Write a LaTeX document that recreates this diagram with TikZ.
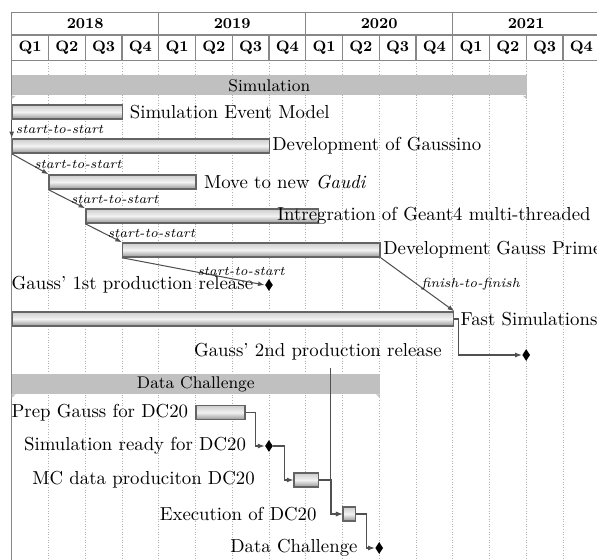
\documentclass[tikz,border=0pt]{standalone}
\usepackage{tikz}
\usetikzlibrary{arrows.meta, positioning, shapes.geometric, calc}
\definecolor{gridgray}{RGB}{175,175,175}
\definecolor{framegray}{RGB}{135,135,135}
\definecolor{groupgray}{RGB}{192,192,192}
\definecolor{barline}{RGB}{100,100,100}
\definecolor{bartop}{RGB}{205,205,205}
\definecolor{barmid}{RGB}{242,242,242}
\definecolor{barbot}{RGB}{150,150,150}
\definecolor{linkgray}{RGB}{80,80,80}
\newcommand{\gpx}{0.01869cm}

\begin{document}
\begin{tikzpicture}[
    x=\gpx, y=-\gpx,
    yearcell/.style={rectangle, draw=framegray, line width=0.6pt, minimum width=147*\gpx, minimum height=22.5*\gpx, inner sep=0pt, font=\footnotesize\bfseries},
    qcell/.style={rectangle, draw=framegray, line width=0.6pt, minimum width=36.75*\gpx, minimum height=25.5*\gpx, inner sep=0pt, font=\footnotesize\bfseries},
    gridline/.style={gridgray, densely dotted, line width=0.4pt},
    grpbar/.style={rectangle, fill=groupgray, minimum height=20*\gpx, inner sep=0pt, anchor=west, font=\small},
    taskbar/.style={rectangle, draw=barline, line width=0.8pt, top color=bartop, bottom color=barbot, middle color=barmid, minimum height=14*\gpx, inner sep=0pt, anchor=west},
    milestone/.style={diamond, fill=black, minimum width=8*\gpx, minimum height=12*\gpx, inner sep=0pt},
    tasktext/.style={inner sep=0pt, font=\normalsize},
    linkarrow/.style={-{Latex[length=3.5pt, width=2.6pt]}, draw=linkgray, line width=0.55pt},
    linktext/.style={font=\scriptsize\itshape, inner sep=2pt}
]
\useasboundingbox (0,0) rectangle (597,560);

\foreach \k in {1,...,16}
  \draw[gridline] ({11.7+\k*36.75},60.5) -- ({11.7+\k*36.75},560);
\draw[framegray, line width=0.6pt] (11.7,12.5) -- (11.7,560);

\foreach \yr [count=\i from 0] in {2018,2019,2020,2021}
  \node[yearcell] (y\yr) at ({11.7+(\i*4+2)*36.75},23.75) {\yr};
\foreach \k in {0,...,15} {
  \pgfmathtruncatemacro{\qn}{mod(\k,4)+1}
  \node[qcell] (q\k) at ({11.7+(\k+0.5)*36.75},47.75) {Q\qn};
}

\node[grpbar, minimum width=514.5*\gpx] (simgrp) at (11.7,85.5) {Simulation};
\fill[groupgray] (simgrp.south east) -- ++(0,3.5) -- ++(-4,-3.5) -- cycle;
\fill[groupgray] (simgrp.south west) -- ++(0,3.5) -- ++(4,-3.5) -- cycle;

\node[taskbar, minimum width=110.25*\gpx] (simev) at (11.7,112) {};
\node[tasktext, right=3.2pt of simev] (simevtxt) {Simulation Event Model};
\node[taskbar, minimum width=257.25*\gpx] (gaussino) at (11.7,146) {};
\node[tasktext, right=0.8pt of gaussino] (gaussinotxt) {Development of Gaussino};
\node[taskbar, minimum width=147*\gpx] (gaudi) at (48.45,182) {};
\node[tasktext, right=3.6pt of gaudi] (gauditxt) {Move to new \textit{Gaudi}};
\node[taskbar, minimum width=232.75*\gpx] (geant) at (85.2,216) {};
\node[tasktext, anchor=west] (geanttxt) at (277,216) {Intregration of Geant4 multi-threaded};
\node[taskbar, minimum width=257.25*\gpx] (prime) at (121.95,250) {};
\node[tasktext, right=1.2pt of prime] (primetxt) {Development Gauss Prime};
\node[milestone] (rel1) at (268.95,285) {};
\node[tasktext, left=5.9pt of rel1] (rel1txt) {Gauss' 1st production release};
\node[taskbar, minimum width=441*\gpx] (fastsim) at (11.7,319) {};
\node[tasktext, right=3.2pt of fastsim] (fastsimtxt) {Fast Simulations};
\node[milestone] (rel2) at (526.2,355) {};
\node[tasktext, anchor=east] (rel2txt) at (442,352) {Gauss' 2nd production release};
\coordinate (relturn) at (330.2,368);

\node[grpbar, minimum width=367.5*\gpx] (dcgrp) at (11.7,384) {Data Challenge};
\fill[groupgray] (dcgrp.south east) -- ++(0,3.5) -- ++(-4,-3.5) -- cycle;
\fill[groupgray] (dcgrp.south west) -- ++(0,3.5) -- ++(4,-3.5) -- cycle;

\node[taskbar, minimum width=49*\gpx] (prep) at (195.45,412.5) {};
\node[tasktext, left=3.7pt of prep] (preptxt) {Prep Gauss for DC20};
\node[milestone] (simready) at (268.95,446) {};
\node[tasktext, left=9.7pt of simready] (simreadytxt) {Simulation ready for DC20};
\node[taskbar, minimum width=24.5*\gpx] (mcprod) at (293.45,480) {};
\node[tasktext, left=20.4pt of mcprod] (mcprodtxt) {MC data produciton DC20};
\node[taskbar, minimum width=12.25*\gpx] (dcexec) at (342.45,514) {};
\node[tasktext, left=13.6pt of dcexec] (dcexectxt) {Execution of DC20};
\node[milestone] (dcdone) at (379.2,548) {};
\node[tasktext, left=9pt of dcdone] (dcdonetxt) {Data Challenge};

\draw[linkarrow] (simev.south west) -- node[linktext, right] {start-to-start} (gaussino.north west);
\draw[linkarrow] (gaussino.south west) -- node[linktext, right] {start-to-start} (gaudi.north west);
\draw[linkarrow] (gaudi.south west) -- node[linktext, right] {start-to-start} (geant.north west);
\draw[linkarrow] (geant.south west) -- node[linktext, right] {start-to-start} (prime.north west);
\draw[linkarrow] (prime.south west) -- node[linktext, right] {start-to-start} (rel1.west);
\draw[linkarrow] (prime.south east) -- node[linktext, right] {finish-to-finish} (fastsim.north east);
\draw[linkarrow] (fastsim.east) -- ++(4.5,0) |- (rel2.west);
\draw[linkarrow] (prep.east) -- ++(9.5,0) |- (simready.west);
\draw[linkarrow] (simready.east) -- ++(11,0) |- (mcprod.west);
\draw[linkarrow] (mcprod.east) -- ++(12.25,0) |- (dcexec.west);
\draw[linkarrow] (relturn) |- (dcexec.west);
\draw[linkarrow] (dcexec.east) -- ++(10.5,0) |- (dcdone.west);
\end{tikzpicture}
\end{document}
